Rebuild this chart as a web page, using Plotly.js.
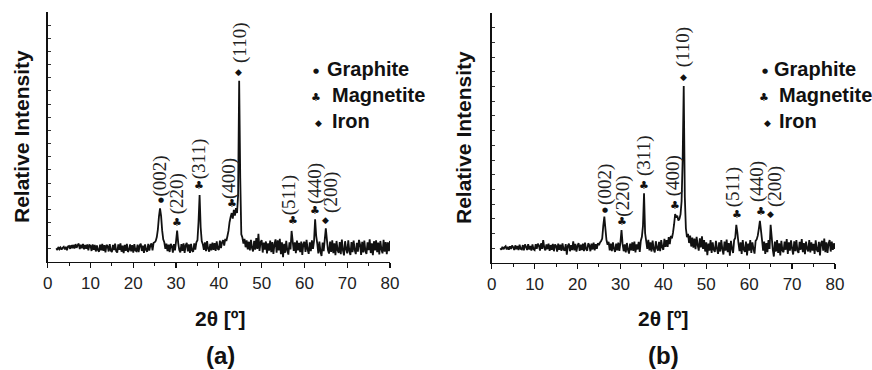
<!DOCTYPE html>
<html>
<head>
<meta charset="utf-8">
<script src="https://cdn.plot.ly/plotly-3.0.1.min.js"></script>
<style>html,body{margin:0;padding:0;background:#fff;}#chart{width:872px;height:370px;}</style>
</head>
<body>
<div id="chart"></div>
<script>
// Sampling grid of the scans (2θ, degrees)
const scanStart = 2;
const scanStep = 0.25;

// Relative intensity, pattern (a), one row per degree (x.00, x.25, x.50, x.75)
const intensityA = [
  104, 92, 114, 98,    // 2
  110, 94, 108, 116,   // 3
  96, 115, 90, 118,    // 4
  122, 100, 128, 104,  // 5
  130, 102, 136, 108,  // 6
  128, 140, 98, 132,   // 7
  104, 138, 96, 130,   // 8
  100, 134, 88, 128,   // 9
  124, 84, 134, 92,    // 10
  130, 80, 126, 90,    // 11
  78, 132, 88, 138,    // 12
  84, 128, 74, 130,    // 13
  120, 80, 136, 86,    // 14
  76, 130, 90, 140,    // 15
  82, 72, 134, 92,     // 16
  142, 78, 124, 68,    // 17
  130, 84, 138, 76,    // 18
  92, 134, 80, 128,    // 19
  72, 136, 88, 82,     // 20
  132, 76, 126, 140,   // 21
  84, 124, 70, 134,    // 22
  92, 78, 138, 86,     // 23
  126, 142, 88, 146,   // 24
  150, 160, 190, 248,  // 25
  345, 408, 350, 240,  // 26
  172, 150, 100, 140,  // 27
  82, 132, 76, 138,    // 28
  122, 72, 136, 88,    // 29
  158, 238, 146, 92,   // 30
  74, 136, 84, 142,    // 31
  70, 128, 146, 80,    // 32
  134, 70, 138, 86,    // 33
  78, 142, 94, 150,    // 34
  165, 305, 509, 262,  // 35
  160, 136, 92, 150,   // 36
  82, 158, 100, 78,    // 37
  138, 88, 148, 92,    // 38
  144, 84, 156, 100,   // 39
  92, 162, 106, 150,   // 40
  166, 124, 176, 160,  // 41
  196, 236, 302, 342,  // 42
  372, 330, 396, 352,  // 43
  410, 372, 505, 1378, // 44
  640, 210, 186, 140,  // 45
  176, 112, 164, 96,   // 46
  154, 88, 168, 104,   // 47
  80, 160, 94, 182,    // 48
  100, 215, 84, 150,   // 49
  166, 72, 148, 94,    // 50
  156, 66, 142, 86,    // 51
  162, 74, 152, 62,    // 52
  136, 172, 70, 164,   // 53
  88, 176, 60, 150,    // 54
  36, 138, 70, 160,    // 55
  86, 56, 150, 96,     // 56
  236, 160, 84, 150,   // 57
  68, 162, 88, 146,    // 58
  74, 156, 54, 138,    // 59
  154, 76, 168, 94,    // 60
  62, 150, 82, 164,    // 61
  100, 160, 324, 198,  // 62
  140, 66, 156, 78,    // 63
  46, 148, 82, 170,    // 64
  256, 170, 90, 64,    // 65
  156, 76, 164, 68,    // 66
  142, 52, 160, 90,    // 67
  70, 152, 60, 170,    // 68
  88, 50, 158, 98,     // 69
  66, 164, 82, 54,     // 70
  152, 74, 162, 90,    // 71
  60, 146, 78, 168,    // 72
  134, 54, 154, 72,    // 73
  162, 82, 62, 150,    // 74
  90, 172, 68, 142,    // 75
  52, 158, 88, 164,    // 76
  74, 148, 58, 160,    // 77
  94, 66, 168, 78,     // 78
  152, 60, 150, 82,    // 79
  160                  // 80
];

// Relative intensity, pattern (b)
const intensityB = [
  100, 90, 110, 94,    // 2
  106, 114, 92, 110,   // 3
  90, 114, 96, 118,    // 4
  108, 88, 120, 94,    // 5
  116, 88, 124, 96,    // 6
  92, 122, 86, 126,    // 7
  110, 88, 128, 92,    // 8
  116, 84, 126, 94,    // 9
  88, 128, 96, 132,    // 10
  118, 84, 134, 96,    // 11
  156, 104, 86, 126,   // 12
  94, 132, 82, 122,    // 13
  90, 130, 80, 126,    // 14
  116, 78, 132, 90,    // 15
  124, 82, 134, 92,    // 16
  84, 128, 56, 118,    // 17
  132, 80, 122, 88,    // 18
  148, 86, 130, 78,    // 19
  118, 136, 82, 124,   // 20
  88, 132, 80, 138,    // 21
  94, 84, 134, 120,    // 22
  80, 132, 92, 138,    // 23
  86, 128, 96, 134,    // 24
  122, 140, 150, 166,  // 25
  252, 315, 232, 155,  // 26
  124, 144, 86, 132,   // 27
  80, 140, 96, 76,     // 28
  132, 86, 138, 82,    // 29
  140, 224, 130, 80,   // 30
  126, 72, 136, 90,    // 31
  64, 132, 86, 140,    // 32
  82, 146, 72, 126,    // 33
  92, 144, 76, 152,    // 34
  178, 252, 474, 202,  // 35
  150, 96, 158, 86,    // 36
  140, 78, 152, 94,    // 37
  72, 148, 102, 84,    // 38
  144, 80, 156, 106,   // 39
  90, 164, 110, 156,   // 40
  110, 176, 128, 184,  // 41
  168, 206, 262, 333,  // 42
  310, 322, 288, 300,  // 43
  330, 420, 702, 1204, // 44
  450, 236, 176, 198,  // 45
  136, 186, 112, 172,  // 46
  104, 166, 94, 178,   // 47
  122, 84, 168, 106,   // 48
  182, 96, 156, 78,    // 49
  140, 54, 132, 84,    // 50
  156, 68, 140, 90,    // 51
  76, 150, 96, 62,     // 52
  140, 78, 156, 94,    // 53
  58, 146, 84, 160,    // 54
  74, 136, 50, 150,    // 55
  96, 68, 156, 170,    // 56
  259, 206, 136, 80,   // 57
  140, 62, 156, 90,    // 58
  76, 146, 52, 132,    // 59
  84, 156, 68, 140,    // 60
  96, 64, 150, 160,    // 61
  186, 232, 286, 222,  // 62
  156, 84, 146, 62,    // 63
  136, 74, 156, 96,    // 64
  259, 176, 90, 44,    // 65
  146, 78, 156, 68,    // 66
  134, 52, 150, 84,    // 67
  74, 146, 90, 162,    // 68
  62, 140, 84, 154,    // 69
  96, 58, 148, 80,     // 70
  156, 84, 68, 144,    // 71
  90, 162, 74, 136,    // 72
  60, 146, 96, 78,     // 73
  156, 72, 140, 84,    // 74
  130, 62, 154, 90,    // 75
  76, 144, 52, 136,    // 76
  150, 84, 166, 74,    // 77
  140, 68, 132, 156,   // 78
  78, 146, 90, 134,    // 79
  96                   // 80
];

// Peak labels (Miller indices) and phase of each peak
const peakHkl   = ["(002)", "(220)", "(311)", "(400)", "(110)", "(511)", "(440)", "(200)"];
const peakPhase = ["Graphite", "Magnetite", "Magnetite", "Magnetite", "Iron", "Magnetite", "Magnetite", "Iron"];
const phaseNames = ["Graphite", "Magnetite", "Iron"];
const phaseSymbols = {Graphite: "\u25CF", Magnetite: "\u2663", Iron: "\u25C6"};
const panelLabels = ["(a)", "(b)"];

// Label placement (data coordinates), panel (a) and (b)
const labelPosA = {x: [26.24, 30.28, 35.42, 42.36, 44.93, 56.45, 62.45, 66.2], y: [657, 517, 783, 638, 1664, 509, 600, 532]};
const symbolPosA = {x: [26.4, 30.28, 35.42, 42.99, 44.63, 57.24, 62.45, 65.02], y: [471, 299, 578, 446, 1446, 312, 391, 319]};
const labelPosB = {x: [26.41, 30.54, 35.5, 42.33, 44.66, 56.32, 61.84, 66.04], y: [531, 456, 728, 592, 1469, 517, 551, 517]};
const symbolPosB = {x: [26.34, 30.37, 35.43, 42.66, 44.66, 57.11, 62.73, 64.97], y: [361, 279, 527, 390, 1263, 330, 352, 335]};

const W = 872, H = 370;
const xA = intensityA.map((_, i) => scanStart + i * scanStep);
const xB = intensityB.map((_, i) => scanStart + i * scanStep);

const traces = [
  {x: xA, y: intensityA, type: "scatter", mode: "lines", line: {color: "#111", width: 1.8, simplify: false}, xaxis: "x", yaxis: "y", hoverinfo: "skip"},
  {x: xB, y: intensityB, type: "scatter", mode: "lines", line: {color: "#111", width: 1.8, simplify: false}, xaxis: "x2", yaxis: "y2", hoverinfo: "skip"}
];

const symFont = (ph) => ({family: "DejaVu Sans", size: ph === "Graphite" ? 7 : (ph === "Iron" ? 9 : 11), color: "#111"});
const annotations = [];
function addPeaks(labelPos, symbolPos, xr, yr) {
  peakHkl.forEach((t, i) => {
    annotations.push({x: labelPos.x[i], y: labelPos.y[i], xref: xr, yref: yr, text: t, showarrow: false, textangle: -90,
      font: {family: "Liberation Serif", size: 19, color: "#222"}, xanchor: "center", yanchor: "middle"});
    const ph = peakPhase[i];
    annotations.push({x: symbolPos.x[i], y: symbolPos.y[i], xref: xr, yref: yr, text: phaseSymbols[ph], showarrow: false,
      font: symFont(ph), xanchor: "center", yanchor: "middle"});
  });
}
addPeaks(labelPosA, symbolPosA, "x", "y");
addPeaks(labelPosB, symbolPosB, "x2", "y2");

// legends (pixel positions converted to paper)
const legendA = {symX: [316, 316, 318], textX: [325, 330, 330], y: [69, 95, 121]};
const legendB = {symX: [765, 763.5, 767.5], textX: [771.5, 777, 777], y: [69, 95, 121]};
function addLegend(L) {
  phaseNames.forEach((ph, i) => {
    annotations.push({x: L.symX[i] / W, y: 1 - (L.y[i] + 2) / H, xref: "paper", yref: "paper", text: phaseSymbols[ph], showarrow: false,
      font: symFont(ph), xanchor: "center", yanchor: "middle"});
    annotations.push({x: L.textX[i] / W, y: 1 - L.y[i] / H, xref: "paper", yref: "paper", text: "<b>" + ph + "</b>", showarrow: false,
      font: {family: "Liberation Sans", size: 20, color: "#111"}, xanchor: "left", yanchor: "middle"});
  });
}
addLegend(legendA);
addLegend(legendB);

// axis titles & panel labels
const titleFont = {family: "Liberation Sans", size: 21, color: "#111"};
[[21, 137], [463, 137]].forEach(p => annotations.push({x: p[0] / W, y: 1 - p[1] / H, xref: "paper", yref: "paper", text: "<b>Relative Intensity</b>",
  showarrow: false, textangle: -90, font: titleFont, xanchor: "center", yanchor: "middle"}));
[[220, 318], [663, 318]].forEach(p => annotations.push({x: p[0] / W, y: 1 - p[1] / H, xref: "paper", yref: "paper", text: "<b>2\u03B8 [\u00BA]</b>",
  showarrow: false, font: titleFont, xanchor: "center", yanchor: "middle"}));
[[220, 355], [663, 355]].forEach((p, i) => annotations.push({x: p[0] / W, y: 1 - p[1] / H, xref: "paper", yref: "paper", text: "<b>" + panelLabels[i] + "</b>",
  showarrow: false, font: {family: "Liberation Sans", size: 24, color: "#111"}, xanchor: "center", yanchor: "middle"}));

const xaxisBase = {range: [0, 80], dtick: 10, tick0: 0, ticks: "outside", ticklen: 5, tickwidth: 1.2, tickcolor: "#111",
  showline: true, linecolor: "#111", linewidth: 1.3, showgrid: false, zeroline: false,
  tickfont: {family: "Liberation Sans", size: 17, color: "#222"},
  minor: {dtick: 5, ticks: "outside", ticklen: 3, tickwidth: 1, tickcolor: "#111", showgrid: false}};
const yaxisBase = {ticks: "inside", ticklen: 3, tickwidth: 1, tickcolor: "#333", dtick: 100, tick0: 0, showticklabels: false,
  showline: true, linecolor: "#111", linewidth: 1.3, showgrid: false, zeroline: false};

const layout = {
  width: W, height: H, margin: {l: 0, r: 0, t: 0, b: 0}, showlegend: false,
  paper_bgcolor: "#fff", plot_bgcolor: "#fff",
  xaxis: Object.assign({}, xaxisBase, {domain: [47.7 / W, 390 / W], anchor: "y"}),
  yaxis: Object.assign({}, yaxisBase, {domain: [(H - 262) / H, (H - 12) / H], range: [0, 1900], anchor: "x"}),
  xaxis2: Object.assign({}, xaxisBase, {domain: [491.7 / W, 835 / W], anchor: "y2"}),
  yaxis2: Object.assign({}, yaxisBase, {domain: [(H - 263) / H, (H - 13) / H], range: [0, 1700], anchor: "x2"}),
  annotations: annotations
};

Plotly.newPlot("chart", traces, layout, {displayModeBar: false, staticPlot: true});
</script>
</body>
</html>
